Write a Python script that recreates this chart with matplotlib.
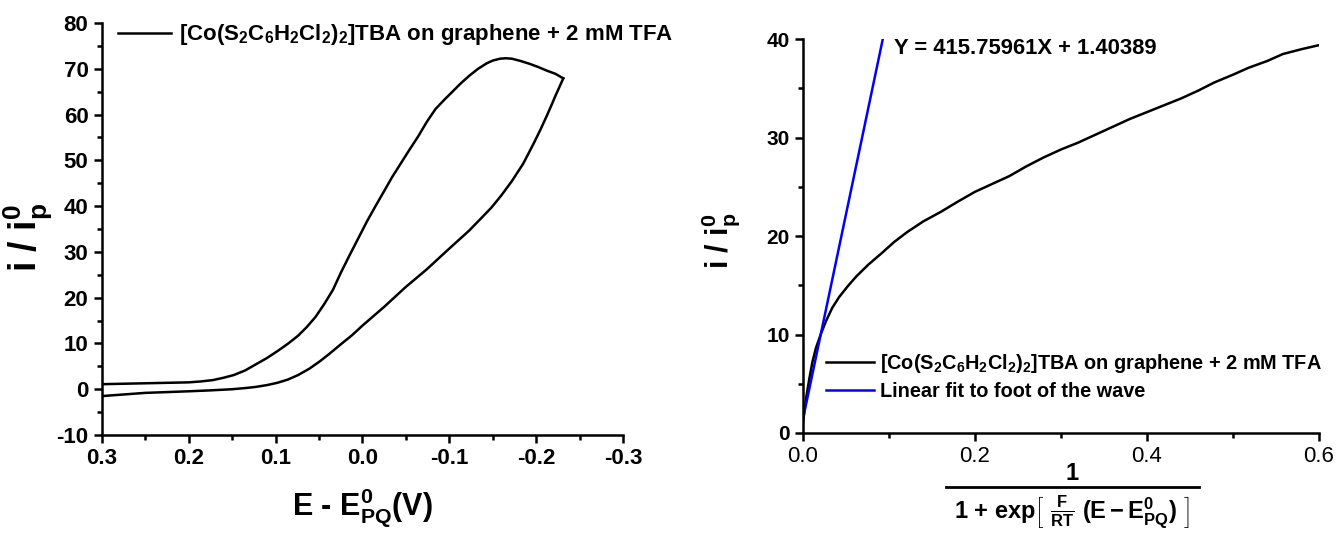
import matplotlib
matplotlib.use('Agg')
import matplotlib.pyplot as plt
from matplotlib.lines import Line2D
from matplotlib.ticker import MultipleLocator, FormatStrFormatter

# scansione CV: ramo di andata (in basso) e ramo di ritorno (in alto)
fwd_E = [0.300, 0.250, 0.200, 0.175, 0.150, 0.135, 0.123, 0.110, 0.098, 0.086,
         0.074, 0.061, 0.049, 0.037, 0.025, 0.012, 0.000, -0.025, -0.049, -0.074,
         -0.098, -0.123, -0.148, -0.160, -0.172, -0.185, -0.197, -0.205, -0.212,
         -0.218, -0.222, -0.227, -0.231]
fwd_i = [-1.5, -0.8, -0.45, -0.25, 0.0, 0.25, 0.5, 0.9, 1.4, 2.1,
         3.1, 4.5, 6.1, 7.9, 9.8, 11.8, 13.9, 18.0, 22.2, 26.2,
         30.4, 34.7, 39.6, 42.4, 45.5, 49.3, 53.7, 56.8, 59.7,
         62.3, 64.1, 66.2, 67.9]
rev_E = [-0.231, -0.222, -0.212, -0.202, -0.192, -0.182, -0.172, -0.165, -0.158,
         -0.150, -0.143, -0.133, -0.123, -0.113, -0.103, -0.094, -0.084, -0.074,
         -0.064, -0.054, -0.044, -0.034, -0.025, -0.015, -0.005, 0.005, 0.015,
         0.025, 0.034, 0.044, 0.054, 0.064, 0.074, 0.086, 0.098, 0.110, 0.123,
         0.135, 0.148, 0.160, 0.172, 0.186, 0.200, 0.225, 0.250, 0.300]
rev_i = [67.9, 68.9, 69.6, 70.4, 71.1, 71.7, 72.2, 72.3, 72.2,
         71.8, 71.2, 70.0, 68.5, 66.8, 64.9, 63.2, 61.2, 58.4,
         55.2, 52.3, 49.3, 46.3, 43.3, 40.0, 36.6, 32.9, 29.2,
         25.4, 21.7, 18.6, 15.8, 13.6, 11.7, 9.9, 8.3, 6.8, 5.4,
         4.1, 3.1, 2.5, 2.0, 1.7, 1.5, 1.4, 1.3, 1.1]

# analisi foot-of-the-wave
fow_x = [0.0, 0.002, 0.004, 0.0074, 0.011, 0.015, 0.021, 0.027, 0.034, 0.042,
         0.052, 0.062, 0.076, 0.092, 0.106, 0.121, 0.140, 0.161, 0.180, 0.200,
         0.220, 0.240, 0.260, 0.280, 0.300, 0.320, 0.340, 0.360, 0.380, 0.400,
         0.420, 0.440, 0.460, 0.478, 0.500, 0.518, 0.540, 0.558, 0.580, 0.600]
fow_y = [1.0, 2.4, 3.7, 5.5, 7.2, 8.6, 10.1, 11.4, 12.7, 13.8,
         14.9, 15.9, 17.1, 18.3, 19.4, 20.4, 21.5, 22.5, 23.5, 24.5,
         25.3, 26.1, 27.1, 28.0, 28.8, 29.5, 30.3, 31.1, 31.9, 32.6,
         33.3, 34.0, 34.8, 35.6, 36.4, 37.1, 37.8, 38.5, 39.0, 39.4]
fit_x = [0.0, 0.0928]
fit_y = [1.404, 40.0]

legend_cv = r'[Co(S$_2$C$_6$H$_2$Cl$_2$)$_2$]TBA on graphene + 2 mM TFA'
legend_fit = 'Linear fit to foot of the wave'
fit_eq = 'Y = 415.75961X + 1.40389'

plt.rcParams['font.family'] = ['Liberation Sans', 'DejaVu Sans']
plt.rcParams['font.weight'] = 'bold'
plt.rcParams['axes.unicode_minus'] = False
plt.rcParams['mathtext.fontset'] = 'custom'
plt.rcParams['mathtext.rm'] = 'Liberation Sans:bold'
plt.rcParams['mathtext.it'] = 'Liberation Sans:bold'
plt.rcParams['mathtext.bf'] = 'Liberation Sans:bold'
plt.rcParams['mathtext.default'] = 'regular'

W, H = 1338, 535
fig = plt.figure(figsize=(W / 100, H / 100), dpi=100)
ax1 = fig.add_axes([0.0760, 0.1869, 0.3898, 0.7701])
ax2 = fig.add_axes([0.6001, 0.1907, 0.3857, 0.7359])

for ax in (ax1, ax2):
    ax.spines['top'].set_visible(False)
    ax.spines['right'].set_visible(False)
    for s in ('left', 'bottom'):
        ax.spines[s].set_linewidth(1.8)
    ax.tick_params(which='major', direction='out', length=6, width=1.8)
    ax.tick_params(which='minor', direction='out', length=3.5, width=1.8)

# --- pannello sinistro: voltammetria ciclica
ax1.plot(fwd_E, fwd_i, color='black', lw=1.8)
ax1.plot(rev_E, rev_i, color='black', lw=1.8, label=legend_cv)
ax1.set_xlim(0.3, -0.3)
ax1.set_ylim(-10, 80)
ax1.xaxis.set_major_locator(MultipleLocator(0.1))
ax1.xaxis.set_minor_locator(MultipleLocator(0.05))
ax1.yaxis.set_major_locator(MultipleLocator(10))
ax1.yaxis.set_minor_locator(MultipleLocator(5))
ax1.xaxis.set_major_formatter(FormatStrFormatter('%.1f'))
for lab in ax1.get_xticklabels() + ax1.get_yticklabels():
    lab.set_fontsize(16)
    lab.set_fontweight('bold')
ax1.set_xlabel(r'E - E$^0_{PQ}$(V)', fontsize=22, fontweight='bold')
ax1.set_ylabel(r'i / i$^0_p$', fontsize=27, fontweight='bold')
ax1.xaxis.set_label_coords(0.5, -0.125)
ax1.yaxis.set_label_coords(-0.092, 0.48)
ax1.legend(loc='center left', bbox_to_anchor=(0.031, 0.971), frameon=False,
           borderpad=0, borderaxespad=0, handlelength=2.4, handletextpad=0.35,
           prop={'size': 16, 'weight': 'bold'})

# --- pannello destro: foot-of-the-wave
ax2.plot(fow_x, fow_y, color='black', lw=1.8, label=legend_cv)
ax2.plot(fit_x, fit_y, color='#0000ff', lw=1.8, label=legend_fit)
ax2.set_xlim(0, 0.6)
ax2.set_ylim(0, 40)
ax2.xaxis.set_major_locator(MultipleLocator(0.2))
ax2.xaxis.set_minor_locator(MultipleLocator(0.1))
ax2.yaxis.set_major_locator(MultipleLocator(10))
ax2.yaxis.set_minor_locator(MultipleLocator(5))
ax2.xaxis.set_major_formatter(FormatStrFormatter('%.1f'))
for lab in ax2.get_xticklabels():
    lab.set_fontsize(16)
    lab.set_fontweight('normal')
for lab in ax2.get_yticklabels():
    lab.set_fontsize(15)
    lab.set_fontweight('bold')
ax2.text(0.1058, 39.1, fit_eq, fontsize=15.8, fontweight='bold', va='center')
ax2.set_ylabel(r'i / i$^0_p$', fontsize=22, fontweight='bold')
ax2.yaxis.set_label_coords(-0.118, 0.488)
ax2.legend(loc='center left', bbox_to_anchor=(0.045, 0.1435), frameon=False,
           borderpad=0, borderaxespad=0, handlelength=2.4, handletextpad=0.3,
           labelspacing=0.35, prop={'size': 14.3, 'weight': 'bold'})

# etichetta x a frazione, composta a mano
xc = 1072 / W
fig.text(xc, 1 - 473 / H, '1', fontsize=17, fontweight='bold', ha='center', va='center')
fig.add_artist(Line2D([946 / W, 1199 / W], [1 - 487 / H, 1 - 487 / H],
                      transform=fig.transFigure, color='black', lw=2))
fig.text(xc, 1 - 512 / H,
         r'1 + exp$\left[\ \frac{F}{RT}\ (E - E^{0}_{PQ})\ \right]$',
         fontsize=17, fontweight='bold', ha='center', va='center')

fig.savefig('out.png', dpi=100)
